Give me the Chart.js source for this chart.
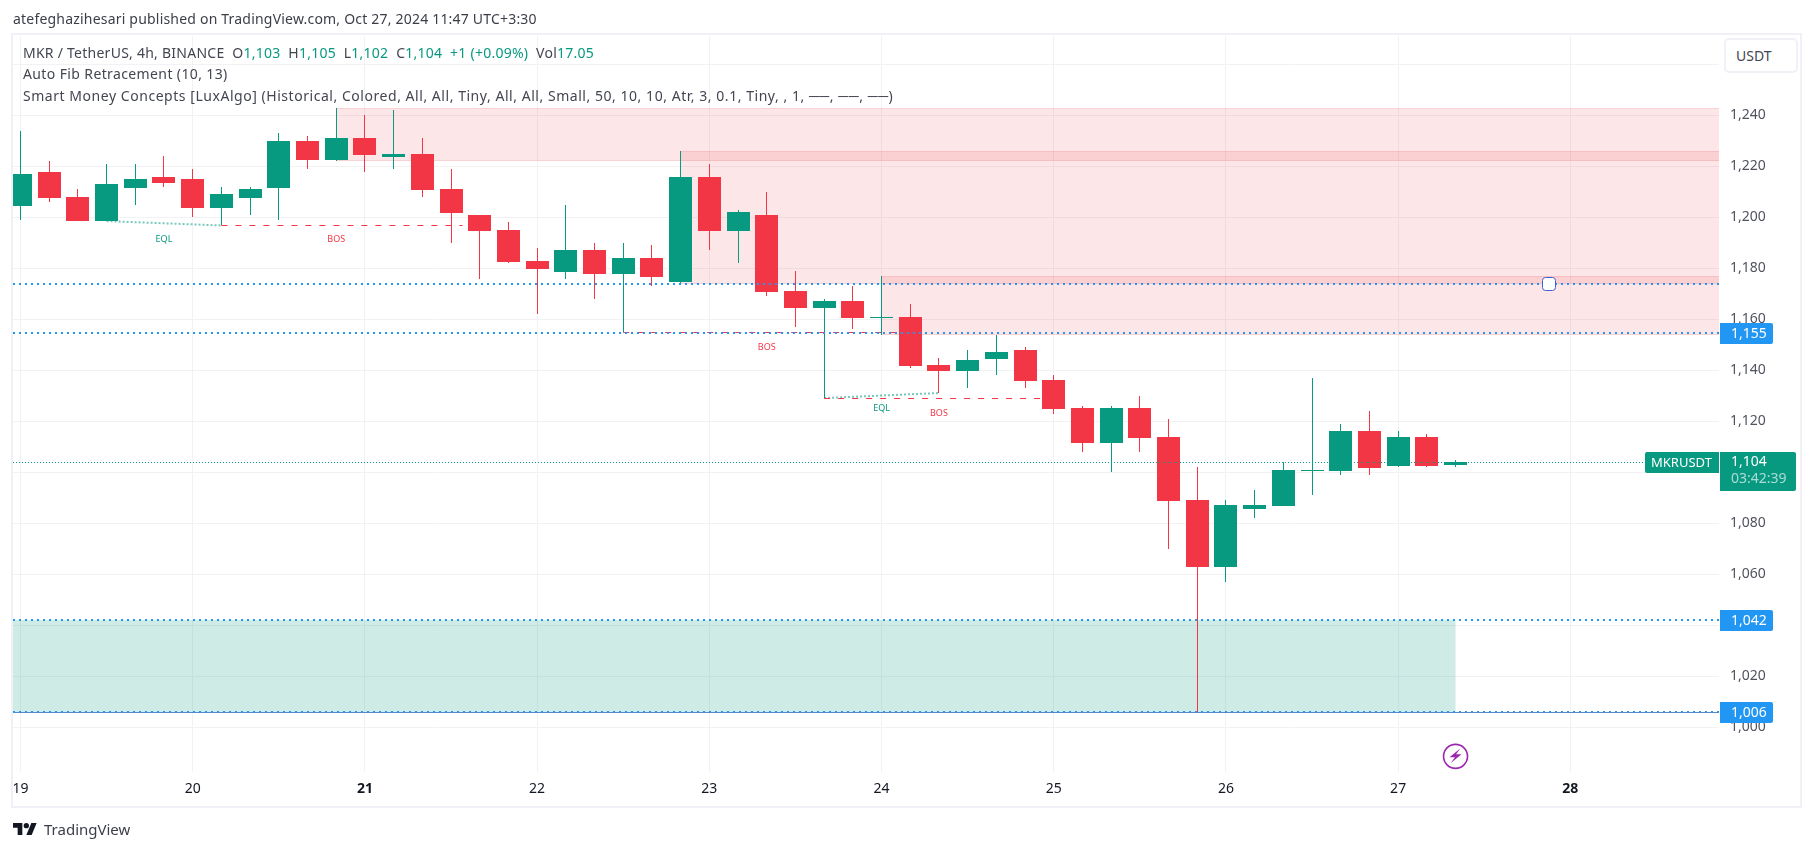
<!DOCTYPE html>
<html>
<head>
<meta charset="utf-8">
<title>MKR / TetherUS</title>
<script src="https://cdn.jsdelivr.net/npm/chart.js@4"></script>
<style>
	html, body { margin: 0; padding: 0; background: #fff; overflow: hidden; }
	body { width: 1814px; height: 851px; position: relative; font-family: "Noto Sans", sans-serif; }
	canvas { position: absolute; left: 0; top: 0; }
	.frame { position: absolute; left: 11px; top: 33px; width: 1787px; height: 771px; border: 2px solid #f0f0f6; }
	.txt { position: absolute; white-space: nowrap; font-size: 14px; line-height: 18px; color: #434651; }
	.txt b { font-weight: 400; color: #089981; }
	.usdt { position: absolute; left: 1724px; top: 38px; width: 70px; height: 31px; border: 2px solid #f0f0f6; border-radius: 5px; background: #fff; font-size: 14px; line-height: 31px; color: #434651; text-indent: 10px; }
	.logo { position: absolute; left: 13px; top: 822px; }
</style>
</head>
<body>
<canvas id="myChart" width="1814" height="851"></canvas>
<div class="frame"></div>
<div class="txt" style="left:13px;top:10px;color:#3b3e48;letter-spacing:0.2px">atefeghazihesari published on TradingView.com, Oct 27, 2024 11:47 UTC+3:30</div>
<div class="txt" style="left:23px;top:44px;letter-spacing:0.25px">MKR / TetherUS, 4h, BINANCE&nbsp; O<b>1,103</b>&nbsp; H<b>1,105</b>&nbsp; L<b>1,102</b>&nbsp; C<b>1,104</b>&nbsp; <b>+1 (+0.09%)</b>&nbsp; Vol<b>17.05</b></div>
<div class="txt" style="left:23px;top:65px;letter-spacing:0.38px">Auto Fib Retracement (10, 13)</div>
<div class="txt" style="left:23px;top:87px;letter-spacing:0.54px">Smart Money Concepts [LuxAlgo] (Historical, Colored, All, All, Tiny, All, All, Small, 50, 10, 10, Atr, 3, 0.1, Tiny, , 1, ──, ──, ──)</div>
<div class="usdt">USDT</div>
<svg class="logo" width="24" height="14" viewBox="0 4 36 18"><path fill="#131722" d="M14 22H7V11H0V4h14v18zM28 22h-8l7.5-18h8L28 22z"/><circle fill="#131722" cx="20" cy="8" r="4"/></svg>
<div class="txt" style="left:44px;top:819px;font-size:15px;line-height:20px;color:#3b3e48">TradingView</div>
<script>
// one candle every 4h, index 0 = the 19th 00:00
const opens = [1204.4, 1217.8, 1208, 1198.5, 1211.5, 1215.8, 1215, 1203.6, 1207.6, 1211.5, 1229.9, 1222.5, 1231.1, 1223.6, 1224.8, 1211.1, 1200.9, 1195, 1182.9, 1178.5, 1187.2, 1177.8, 1184, 1174.6, 1215.8, 1194.6, 1200.9, 1171.1, 1164.4, 1167.2, 1160.5, 1160.9, 1142.1, 1139.7, 1144.4, 1147.9, 1136.2, 1125.2, 1111.5, 1125.2, 1113.8, 1089.1, 1062.9, 1085.6, 1086.8, 1100.5, 1100.5, 1116.2, 1102.5, 1113.8, 1103];
const highs = [1233.8, 1222.1, 1211.1, 1220.9, 1220.9, 1224, 1218.9, 1211.9, 1211.9, 1233, 1231.9, 1242.9, 1240.1, 1242.1, 1231.1, 1218.9, 1200.9, 1198.2, 1188, 1204.8, 1189.9, 1189.9, 1189.1, 1226, 1220.9, 1202.9, 1209.9, 1178.9, 1168, 1173, 1177, 1166, 1144.8, 1147.9, 1153.8, 1149.1, 1138.2, 1126, 1126, 1129.9, 1120.9, 1102, 1089.1, 1093, 1104, 1137, 1118.9, 1124, 1116.2, 1115, 1105];
const lows = [1198.9, 1206, 1198.5, 1198.5, 1204.8, 1211.9, 1200.1, 1196.8, 1200.9, 1199, 1218.9, 1222.1, 1217.8, 1218.9, 1208, 1189.9, 1175.8, 1182.1, 1162.1, 1175.8, 1168, 1154.9, 1173, 1174, 1187.2, 1182.1, 1169.1, 1157, 1129.1, 1156.2, 1153.8, 1140.9, 1131.1, 1133, 1138.2, 1133, 1122.9, 1108, 1100.1, 1108, 1069.9, 1006, 1057, 1082, 1086.8, 1091.1, 1098.9, 1098.9, 1102, 1102, 1102];
const closes = [1217, 1207.6, 1198.5, 1213, 1215, 1213.5, 1203.6, 1209.1, 1211.1, 1229.9, 1222.5, 1231.1, 1224.4, 1224.8, 1210.7, 1201.7, 1194.6, 1182.5, 1179.7, 1187.2, 1177.8, 1184, 1176.6, 1215.8, 1194.6, 1202.1, 1170.7, 1164.4, 1167.2, 1160.5, 1160.9, 1141.7, 1139.7, 1144, 1147.2, 1135.8, 1124.8, 1111.5, 1125.2, 1113.4, 1088.7, 1062.9, 1087.2, 1087.2, 1100.9, 1100.9, 1116.2, 1101.7, 1113.8, 1102.5, 1104];

const dayLabels = ["19", "20", "21", "22", "23", "24", "25", "26", "27", "28"];
const boldDays = ["21", "28"];

// order blocks
const zoneStarts = [11, 23, 30, -1];
const zoneEnds = [60, 60, 60, 50];
const zoneTops = [1242.7, 1226, 1177, 1042];
const zoneBottoms = [1222.2, 1173.8, 1153.8, 1006];

const fibLevels = [1173.8, 1154.7, 1042.1, 1005.9];
const lastPrice = 1104;
const countdown = "03:42:39";
const symbol = "MKRUSDT";

const bosStarts = [7, 21, 28];
const bosEnds = [15.4, 31, 35.7];
const bosLevels = [1196.8, 1154.9, 1129.1];
const bosLabelIdx = [11, 26, 32];
const bosLabelPrice = [1191.5, 1149.1, 1123.2];

const eqlStartIdx = [3, 28];
const eqlEndIdx = [7, 32];
const eqlStartPrice = [1198.5, 1129.1];
const eqlEndPrice = [1196.8, 1131.1];
const eqlLabelIdx = [5, 30];
const eqlLabelPrice = [1191.5, 1125.2];

const handleIdx = 53.24;
const boltIdx = 50;
const boltPrice = 988.6;

const UP = "#089981";
const DOWN = "#f23645";
const BLUE = "#2196f3";
const GRID = "#f2f2f4";
const FONT = '"Noto Sans", sans-serif';

const xMin = -0.261;
const xMax = 59.18;
const yMin = 982.47;
const yMax = 1271.1;

const candleColors = closes.map((c, i) => (c >= opens[i] ? UP : DOWN));

const lineSet = (points, color, width, dash, order) => ({
	type: "line",
	data: points,
	borderColor: color,
	borderWidth: width,
	borderDash: dash,
	pointRadius: 0,
	tension: 0,
	order,
});

const datasets = [
	// price and fib lines sit on top of the candles
	lineSet([{ x: xMin, y: lastPrice }, { x: xMax, y: lastPrice }], UP, 1, [1, 2], 0),
	...fibLevels.map((lvl) => lineSet([{ x: xMin, y: lvl }, { x: xMax, y: lvl }], BLUE, 2, [2, 4], 1)),
	lineSet([{ x: xMin, y: fibLevels[3] }, { x: xMax, y: fibLevels[3] }], "#6f7fb8", 1, [], 2),
	{
		type: "bar",
		data: opens.map((o, i) => ({ x: i, y: [o, closes[i]] })),
		backgroundColor: candleColors,
		barThickness: 23,
		grouped: false,
		borderWidth: 0,
		inflateAmount: 0,
		order: 3,
	},
	{
		type: "bar",
		data: lows.map((l, i) => ({ x: i, y: [l, highs[i]] })),
		backgroundColor: candleColors,
		barThickness: 1,
		grouped: false,
		borderWidth: 0,
		inflateAmount: 0,
		order: 4,
	},
	...bosLevels.map((lvl, i) => lineSet([{ x: bosStarts[i], y: lvl }, { x: bosEnds[i], y: lvl }], DOWN, 1, [6, 8], 5)),
	...eqlStartIdx.map((s, i) => lineSet([{ x: s, y: eqlStartPrice[i] }, { x: eqlEndIdx[i], y: eqlEndPrice[i] }], "rgba(8,153,129,0.55)", 2, [2, 2], 6)),
];

// candles and level lines are pixel snapped, like the real chart
const snapMarks = {
	id: "snapMarks",
	afterDatasetsUpdate(chart) {
		chart.getSortedVisibleDatasetMetas().forEach((meta) => {
			if (meta.type === "bar") {
				meta.data.forEach((el) => {
					el.x = Math.floor(el.x) + 0.5;
					const top = Math.round(Math.min(el.y, el.base));
					let bottom = Math.round(Math.max(el.y, el.base));
					if (bottom === top) bottom = top + 1;
					el.y = top;
					el.base = bottom;
					el.height = bottom - top;
				});
				return;
			}
			const [a, b] = meta.data;
			if (a.y !== b.y) return;
			const odd = meta.controller.getDataset().borderWidth === 1;
			const py = odd ? Math.floor(a.y) + 0.5 : Math.round(a.y);
			a.y = py;
			b.y = py;
		});
	},
};

const zones = {
	id: "zones",
	beforeDatasetsDraw(chart) {
		const { ctx, chartArea, scales: { x, y } } = chart;
		ctx.save();
		zoneStarts.forEach((s, i) => {
			const left = Math.max(x.getPixelForValue(s), chartArea.left);
			const right = Math.min(x.getPixelForValue(zoneEnds[i]), chartArea.right);
			const top = Math.round(y.getPixelForValue(zoneTops[i]));
			const bottom = Math.round(y.getPixelForValue(zoneBottoms[i]));
			const green = i === 3;
			ctx.fillStyle = green ? "rgba(8,153,129,0.2)" : "rgba(235,60,70,0.13)";
			ctx.fillRect(left, top, right - left, bottom - top);
			if (!green) {
				ctx.fillStyle = "rgba(242,54,69,0.12)";
				ctx.fillRect(left, top, right - left, 1);
				ctx.fillRect(left, bottom - 1, right - left, 1);
			}
		});
		ctx.restore();
	},
};

const tag = (ctx, left, top, w, h, color, radii) => {
	ctx.fillStyle = color;
	ctx.beginPath();
	ctx.roundRect(left, top, w, h, radii);
	ctx.fill();
};

const overlays = {
	id: "overlays",
	afterDraw(chart) {
		const { ctx, chartArea, scales: { x, y } } = chart;
		ctx.save();
		ctx.textBaseline = "middle";

		// BOS / EQL labels
		ctx.textAlign = "center";
		ctx.font = `9px ${FONT}`;
		ctx.fillStyle = DOWN;
		bosLabelIdx.forEach((v, i) => ctx.fillText("BOS", x.getPixelForValue(v), y.getPixelForValue(bosLabelPrice[i])));
		ctx.fillStyle = UP;
		eqlLabelIdx.forEach((v, i) => ctx.fillText("EQL", x.getPixelForValue(v), y.getPixelForValue(eqlLabelPrice[i])));

		// fib price tags
		ctx.textAlign = "left";
		ctx.font = `14px ${FONT}`;
		[fibLevels[1], fibLevels[2], fibLevels[3]].forEach((lvl) => {
			const py = Math.round(y.getPixelForValue(lvl));
			tag(ctx, chartArea.right + 1, py - 10, 53, 21, BLUE, [0, 2, 2, 0]);
			ctx.fillStyle = "#fff";
			ctx.fillText(Math.round(lvl).toLocaleString("en-US"), 1731, py + 1);
		});

		// last price tags
		const py = Math.round(y.getPixelForValue(lastPrice));
		tag(ctx, 1645, py - 10, 74, 21, UP, [2, 0, 0, 2]);
		tag(ctx, chartArea.right + 1, py - 10, 76, 39, UP, [0, 2, 2, 0]);
		ctx.fillStyle = "#fff";
		ctx.font = `13px ${FONT}`;
		ctx.fillText(symbol, 1651, py + 1);
		ctx.font = `14px ${FONT}`;
		ctx.fillText(lastPrice.toLocaleString("en-US"), 1731, py);
		ctx.fillStyle = "rgba(255,255,255,0.65)";
		ctx.fillText(countdown, 1731, py + 17);

		// fib handle
		const hx = x.getPixelForValue(handleIdx);
		const hy = Math.round(y.getPixelForValue(fibLevels[0]));
		ctx.fillStyle = "#fff";
		ctx.strokeStyle = "#3d5fd9";
		ctx.lineWidth = 1;
		ctx.beginPath();
		ctx.roundRect(Math.round(hx) - 6.5, hy - 6.5, 13, 13, 3);
		ctx.fill();
		ctx.stroke();

		// lightning mark under the last candle
		const bx = x.getPixelForValue(boltIdx);
		const by = y.getPixelForValue(boltPrice);
		ctx.strokeStyle = "#9c27b0";
		ctx.fillStyle = "#9c27b0";
		ctx.lineWidth = 1.6;
		ctx.beginPath();
		ctx.arc(bx, by, 12, 0, Math.PI * 2);
		ctx.stroke();
		ctx.beginPath();
		ctx.moveTo(bx + 5, by - 8);
		ctx.lineTo(bx - 6, by + 1);
		ctx.lineTo(bx - 0.5, by + 1);
		ctx.lineTo(bx - 5, by + 7);
		ctx.lineTo(bx + 6, by - 2);
		ctx.lineTo(bx + 0.5, by - 2);
		ctx.closePath();
		ctx.fill();
		ctx.restore();
	},
};

new Chart(document.getElementById("myChart"), {
	type: "bar",
	data: { datasets },
	plugins: [snapMarks, zones, overlays],
	options: {
		responsive: false,
		animation: false,
		events: [],
		layout: { padding: { left: 13, top: 36, right: 0, bottom: 0 } },
		plugins: { legend: { display: false }, tooltip: { enabled: false } },
		scales: {
			x: {
				type: "linear",
				offset: false,
				min: xMin,
				max: xMax,
				afterBuildTicks: (s) => {
					s.ticks = dayLabels.map((_, i) => ({ value: i * 6 }));
				},
				afterFit: (s) => {
					s.height = 79;
				},
				grid: { color: GRID, drawTicks: false, offset: false },
				border: { display: false },
				ticks: {
					autoSkip: false,
					maxRotation: 0,
					padding: 9,
					color: "#131722",
					font: (c) => ({
						family: FONT,
						size: 14,
						weight: boldDays.includes(dayLabels[c.tick ? c.tick.value / 6 : 0]) ? "bold" : "normal",
					}),
					callback: (v) => dayLabels[v / 6],
				},
			},
			y: {
				position: "right",
				min: yMin,
				max: yMax,
				afterBuildTicks: (s) => {
					s.ticks = s.ticks.filter((t) => t.value % 20 === 0);
				},
				afterFit: (s) => {
					s.width = 95;
				},
				grid: { color: GRID, drawTicks: false },
				border: { display: false },
				ticks: {
					stepSize: 20,
					padding: 11,
					crossAlign: "near",
					color: "#50535e",
					font: { family: FONT, size: 14 },
					callback: (v) => v.toLocaleString("en-US"),
				},
			},
		},
	},
});
</script>
</body>
</html>
